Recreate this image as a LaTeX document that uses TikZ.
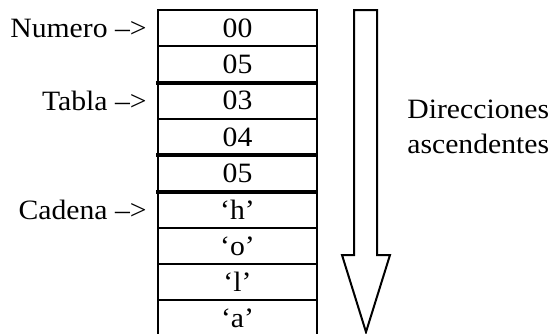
\documentclass[tikz,border=0pt]{standalone}
\usepackage{fontspec}
\setmainfont{Liberation Serif}[FakeStretch=1.06]
\usetikzlibrary{positioning}

\begin{document}
\begin{tikzpicture}[
    x=0.5pt, y=-0.5pt,
    font={\fontsize{14}{18.5}\selectfont},
    celda/.style={rectangle, draw, line width=1pt, minimum width=79.5pt, minimum height=18.15pt, inner sep=0pt, outer sep=0pt},
    etiqueta/.style={inner sep=0pt},
    separador/.style={line width=2pt}
]
\useasboundingbox (0,0) rectangle (557,333);
\node[celda, anchor=north west] (c1) at (158,10) {00};
\node[celda, below=0pt of c1] (c2) {05};
\node[celda, below=0pt of c2] (c3) {03};
\node[celda, below=0pt of c3] (c4) {04};
\node[celda, below=0pt of c4] (c5) {05};
\node[celda, below=0pt of c5] (c6) {`h'};
\node[celda, below=0pt of c6] (c7) {`o'};
\node[celda, below=0pt of c7] (c8) {`l'};
\node[celda, below=0pt of c8] (c9) {`a'};
% separadores gruesos
\draw[separador] ([xshift=-1pt]c2.south west) -- (c2.south east);
\draw[separador] ([xshift=-1pt]c4.south west) -- (c4.south east);
\draw[separador] ([xshift=-1pt]c5.south west) -- (c5.south east);
\node[etiqueta, left=5.5pt of c1] (numero) {Numero \textendash>};
\node[etiqueta, left=5.5pt of c3] (tabla) {Tabla \textendash>};
\node[etiqueta, left=5.5pt of c6] (cadena) {Cadena \textendash>};
% flecha de direcciones
\draw[line width=1pt] (354,10) -- (377,10) -- (377,255) -- (390,255) -- (366,332) -- (342,255) -- (354,255) -- cycle;
\node[etiqueta, anchor=base west] (dir1) at (407,118) {Direcciones};
\node[etiqueta, anchor=base west] (dir2) at (407,153) {ascendentes};
\end{tikzpicture}
\end{document}
